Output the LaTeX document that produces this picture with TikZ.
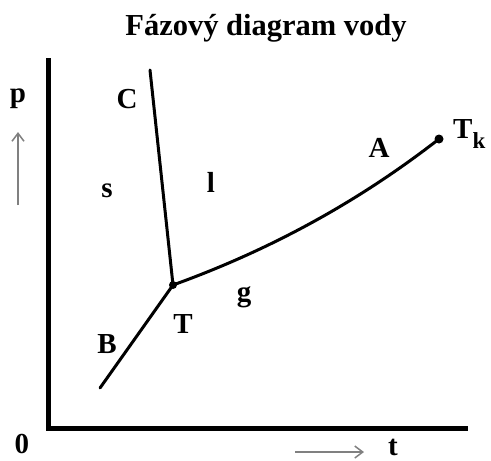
\documentclass[tikz,border=0pt]{standalone}
\usepackage{fontspec}
\setmainfont{Liberation Serif}
\usetikzlibrary{arrows.meta}
\tikzset{
  lbl/.style={inner sep=0pt, anchor=base, font=\fontsize{29}{34}\selectfont\bfseries},
  axis/.style={line width=5pt, line join=miter},
  curve/.style={line width=3pt, line cap=round},
  pt/.style={circle, fill=black, inner sep=0pt, minimum size=#1},
  garrow/.style={draw=black!50, line width=1.5pt, -{Straight Barb[length=8pt,width=12pt]}}
}
\begin{document}
\begin{tikzpicture}[x=1pt,y=-1pt]
\useasboundingbox (0,0) rectangle (491,461);
% title
\node[lbl, font=\fontsize{30.5}{36}\selectfont\bfseries] (title) at (266,35) {Fázový diagram vody};
% axes
\coordinate (ytop) at (48,58);
\coordinate (O) at (48,428);
\coordinate (xend) at (468,428);
\draw[axis] (ytop) -- (O) -- (xend);
% axis arrows
\coordinate (ua0) at (18,205);
\coordinate (ua1) at (18,132);
\draw[garrow] (ua0) -- (ua1);
\coordinate (ra0) at (295,452);
\coordinate (ra1) at (364,452);
\draw[garrow] (ra0) -- (ra1);
% points
\node[pt=8pt] (tp) at (173,285) {};
\node[pt=9pt] (tk) at (439,139) {};
\coordinate (cend) at (150,70);
\coordinate (bend) at (100,388);
% curves
\draw[curve] (cend) -- (tp.center);
\draw[curve] (bend) -- (tp.center);
\draw[curve] (tp.center) .. controls (270,250) and (358,202) .. (tk.center);
% labels
\node[lbl] (lp) at (18,102) {p};
\node[lbl] (l0) at (22,453) {0};
\node[lbl] (lt) at (393,455) {t};
\node[lbl] (lC) at (127,108) {C};
\node[lbl] (ls) at (107,197) {s};
\node[lbl] (ll) at (211,192) {l};
\node[lbl] (lA) at (379,157) {A};
\node[lbl, anchor=base west] (lTk) at (453,138) {T\raisebox{-10pt}{\fontsize{23}{26}\selectfont k}};
\node[lbl] (lg) at (244,301) {g};
\node[lbl] (lT) at (183,333) {T};
\node[lbl] (lB) at (107,353) {B};
\end{tikzpicture}
\end{document}
